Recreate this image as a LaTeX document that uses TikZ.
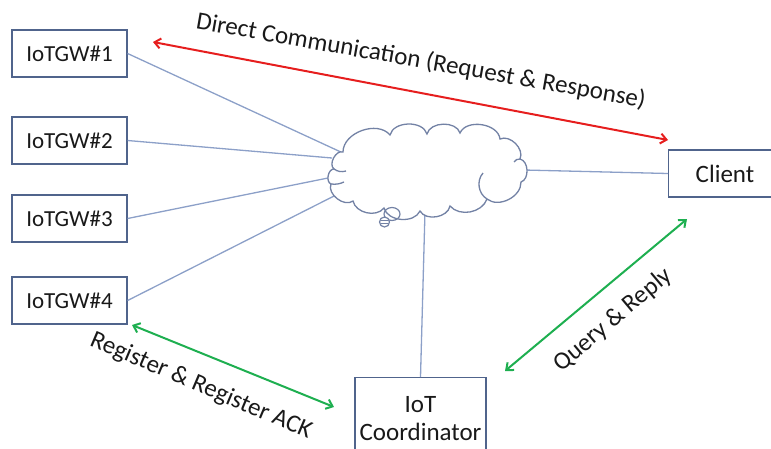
\documentclass[tikz,border=0pt]{standalone}
\usepackage{fontspec}
\setmainfont{Carlito}
\usetikzlibrary{arrows.meta}
\definecolor{linkc}{RGB}{140,160,200}
\definecolor{boxc}{RGB}{80,100,140}
\definecolor{cloudc}{RGB}{115,130,165}
\definecolor{redc}{RGB}{230,30,30}
\definecolor{greenc}{RGB}{30,175,80}
\definecolor{txt}{RGB}{25,25,25}
\begin{document}
\begin{tikzpicture}[x=1pt,y=-1pt,
  font=\fontsize{25}{31}\selectfont, text=txt,
  devbox/.style={draw=boxc, line width=1.2pt, minimum width=115pt, minimum height=47pt, inner sep=0pt},
  gwbox/.style={devbox, font=\fontsize{23}{28}\selectfont},
  link/.style={draw=linkc, line width=1.3pt},
  msg/.style={line width=2pt, {Straight Barb[length=6pt,width=10pt]}-{Straight Barb[length=6pt,width=10pt]}},
  puff/.style={cloudc, line width=1.3pt},
  lbl/.style={inner sep=0pt}]
\useasboundingbox (0,0) rectangle (771,448);
\clip (0,0) rectangle (771,448);

% gateways
\node[gwbox] (gw1) at (69.5,53.5) {IoTGW\#1};
\node[gwbox] (gw2) at (69.5,140.5) {IoTGW\#2};
\node[gwbox] (gw3) at (69.5,218.5) {IoTGW\#3};
\node[gwbox] (gw4) at (69.5,300.5) {IoTGW\#4};

% client and coordinator
\node[devbox, minimum width=110pt, anchor=west] (client) at (668,173.5) {};
\node[lbl] at (725,174) {Client};
\node[devbox, minimum width=131pt, minimum height=90pt, anchor=north] (coord) at (420.5,377) {};
\node[lbl, align=center, font=\fontsize{25}{28}\selectfont] at (420.5,419) {IoT\\Coordinator};

% links to the cloud
\coordinate (c1) at (343,153);
\coordinate (c2) at (332,158);
\coordinate (c3) at (328,178);
\coordinate (c4) at (336,195);
\coordinate (cr) at (524,170);
\coordinate (cb) at (425,211);
\draw[link] (gw1.east) -- (c1);
\draw[link] (gw2.east) -- (c2);
\draw[link] (gw3.east) -- (c3);
\draw[link] (gw4.east) -- (c4);
\draw[link] (cr) -- (client.west);
\draw[link] (cb) -- (coord.north);

% network cloud outline
\draw[puff, fill=white]
  (343,152) to[bend left=70] (390,135)
  to[bend left=75] (427,134)
  to[bend left=75] (460,133)
  to[bend left=75] (500,139)
  to[bend left=70] (520,159)
  to[bend left=75] (521,182)
  to[bend left=65] (487,199)
  to[bend left=60] (450,206)
  to[bend left=70] (420,211)
  to[bend left=70] (384,208)
  to[bend left=65] (353,201)
  to[bend left=75] (331,184)
  to[bend left=80] (334,169)
  to[bend left=80] cycle;
% creases inside the cloud
\draw[puff] (334,169) to[bend right=25] (346,171);
\draw[puff] (331,184) to[bend right=15] (344,182);
\draw[puff] (487,199) to[bend left=50] (483,173);
\draw[puff] (520,159) to[bend right=30] (514,162);
% thought-bubble tail
\draw[puff, line width=1.2pt] (392,214) ellipse (8pt and 6.5pt);
\draw[puff, line width=1.2pt, fill=white] (384.5,222) circle (5pt);
\draw[puff, line width=0.9pt] (381,220.5) -- (388,220.5) (381,223.5) -- (388,223.5);

% message exchanges
\coordinate (r1) at (153,42);
\coordinate (r2) at (668,140);
\draw[msg, redc] (r1) -- (r2);
\node[lbl, rotate=-10] at (421,61) {Direct Communication (Request \& Response)};

\coordinate (g1) at (132,325);
\coordinate (g2) at (334,407);
\draw[msg, greenc] (g1) -- (g2);
\node[lbl, rotate=-23] at (201,386) {Register \& Register ACK};

\coordinate (q1) at (505,371);
\coordinate (q2) at (687,219);
\draw[msg, greenc] (q1) -- (q2);
\node[lbl, rotate=40] at (613,320) {Query \& Reply};
\end{tikzpicture}
\end{document}
